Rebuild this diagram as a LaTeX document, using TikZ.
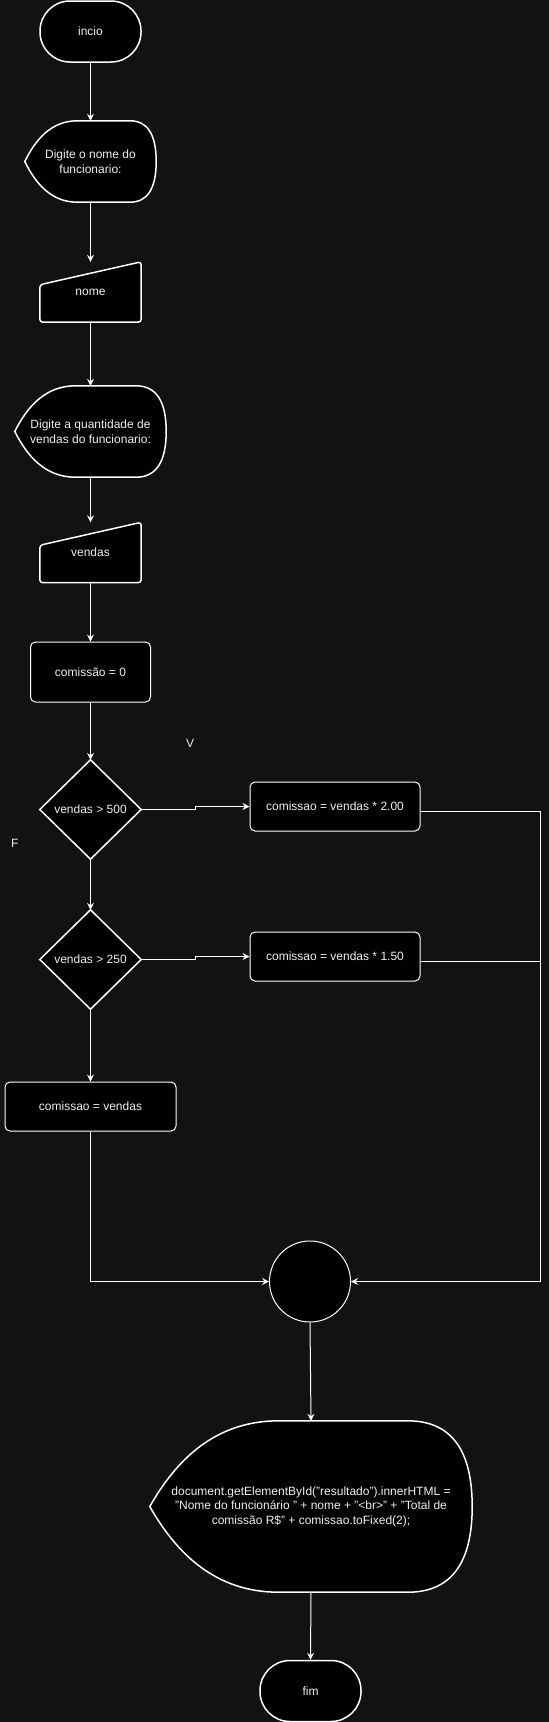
\documentclass[tikz,border=0pt]{standalone}
\usepackage{fontspec}
\setmainfont{Liberation Sans}
\usetikzlibrary{calc,arrows.meta}

\definecolor{paper}{HTML}{121212}
\definecolor{ink}{HTML}{F0F0F0}

\pgfdeclarelayer{shapes}
\pgfsetlayers{shapes,main}

\tikzset{
  outline/.style={draw=white, fill=black, line width=1.5pt},
  txt/.style={text=ink, font=\fontsize{12}{14.5}\selectfont, align=center, inner sep=0pt},
  startstop/.style={txt, outline, rounded corners=30pt, minimum width=101pt, minimum height=61pt},
  displaybox/.style={txt},
  inputbox/.style={txt, minimum width=101pt, minimum height=60pt},
  decisionbox/.style={txt, minimum width=101pt, minimum height=99pt},
  procbox/.style={txt, draw=white, fill=black, line width=1pt, rounded corners=5pt, minimum height=60pt},
  joincircle/.style={circle, draw=white, fill=black, line width=1pt, minimum size=81pt, inner sep=0pt},
  flowline/.style={draw=white, line width=1pt},
  flowarrow/.style={flowline, -{Stealth[length=7pt,width=7pt,inset=2.5pt]}},
}

% shapes drawn behind the text of a node
\newcommand\displayshape[1]{%
  \begin{pgfonlayer}{shapes}
  \draw[outline] let \p1=(#1.north west), \p2=(#1.south east), \p3=(#1.center), \n1={\x2-\x1} in
    (\x1,\y3) .. controls ({\x1+0.08*\n1},{\y3+0.53*(\y1-\y3)}) and ({\x1+0.2*\n1},\y1) .. ({\x1+0.4*\n1},\y1)
    -- ({\x2-0.2*\n1},\y1) .. controls ({\x2-0.0667*\n1},\y1) and (\x2,{\y1+0.3333*(\y3-\y1)}) .. (\x2,\y3)
    .. controls (\x2,{\y2+0.3333*(\y3-\y2)}) and ({\x2-0.0667*\n1},\y2) .. ({\x2-0.2*\n1},\y2)
    -- ({\x1+0.4*\n1},\y2) .. controls ({\x1+0.2*\n1},\y2) and ({\x1+0.08*\n1},{\y3+0.53*(\y2-\y3)}) .. (\x1,\y3) -- cycle;
  \end{pgfonlayer}}
\newcommand\manualshape[1]{%
  \begin{pgfonlayer}{shapes}
  \draw[outline, rounded corners=3pt] ($(#1.north west)!0.38!(#1.south west)$) -- (#1.north east)
    -- (#1.south east) -- (#1.south west) -- cycle;
  \end{pgfonlayer}}
\newcommand\rhombus[1]{%
  \begin{pgfonlayer}{shapes}
  \draw[outline] (#1.west) -- (#1.north) -- (#1.east) -- (#1.south) -- cycle;
  \end{pgfonlayer}}

\begin{document}
\begin{tikzpicture}[x=1pt, y=-1pt]
        \begin{pgfonlayer}{shapes}
            \fill[paper] (0,0) rectangle (549,1722);
        \end{pgfonlayer}
        \useasboundingbox (0,0) rectangle (549,1722);
        %\draw[color=gray] (0,0) grid[step=50] (549,1722);
        \node[startstop] (inicio) at (90.5,31.5) {incio};
        \node[displaybox, minimum width=131pt, minimum height=81pt] (askname) at (90.5,161.5) {Digite o nome do\\funcionario:};
        \node[inputbox] (nome) at (90.5,292) {nome};
        \node[displaybox, minimum width=151pt, minimum height=91pt] (asksales) at (90.5,431.5) {Digite a quantidade de\\vendas do funcionario:};
        \node[inputbox] (vendas) at (90.5,552.5) {vendas};
        \node[procbox, minimum width=120pt] (zero) at (90.5,672) {comissão = 0};
        \node[decisionbox] (over500) at (90.5,809.5) {vendas > 500};
        \node[procbox, minimum width=170pt, minimum height=49pt] (rate200) at (335,806.5) {comissao = vendas * 2.00};
        \node[decisionbox] (over250) at (90.5,959.5) {vendas > 250};
        \node[procbox, minimum width=170pt, minimum height=49pt] (rate150) at (335,956.5) {comissao = vendas * 1.50};
        \node[procbox, minimum width=171pt, minimum height=49pt] (flat) at (90.5,1106.5) {comissao = vendas};
        \node[joincircle] (join) at (310,1281.5) {};
        \node[displaybox, minimum width=322pt, minimum height=171pt] (result) at (311,1506.5) {document.getElementById("resultado").innerHTML =\\"Nome do funcionário " + nome + "<br>" + "Total de\\comissão R\$" + comissao.toFixed(2);};
        \node[startstop] (fim) at (310.5,1691) {fim};
        \node[txt] (vlabel) at (190,743) {V};
        \node[txt] (flabel) at (14.7,843) {F};
        \displayshape{askname}
        \manualshape{nome}
        \displayshape{asksales}
        \manualshape{vendas}
        \rhombus{over500}
        \rhombus{over250}
        \displayshape{result}
        \draw[flowarrow] (inicio.south) -- (askname.north);
        \draw[flowarrow] (askname.south) -- (nome.north);
        \draw[flowarrow] (nome.south) -- (asksales.north);
        \draw[flowarrow] (asksales.south) -- (vendas.north);
        \draw[flowarrow] (vendas.south) -- (zero.north);
        \draw[flowarrow] (zero.south) -- (over500.north);
        \draw[flowarrow] (over500.east) -- ++(54,0) |- (rate200.west);
        \draw[flowarrow] (over500.south) -- (over250.north);
        \draw[flowarrow] (over250.east) -- ++(54,0) |- (rate150.west);
        \draw[flowarrow] (over250.south) -- (flat.north);
        \draw[flowarrow] ([yshift=-4.5pt]rate200.east) -- ++(120,0) |- (join.east);
        \draw[flowline] ([yshift=-4.5pt]rate150.east) -- ++(120,0);
        \draw[flowarrow] (flat.south) |- (join.west);
        \draw[flowarrow] (join.south) -- (result.north);
        \draw[flowarrow] (result.south) -- (fim.north);
\end{tikzpicture}
\end{document}
